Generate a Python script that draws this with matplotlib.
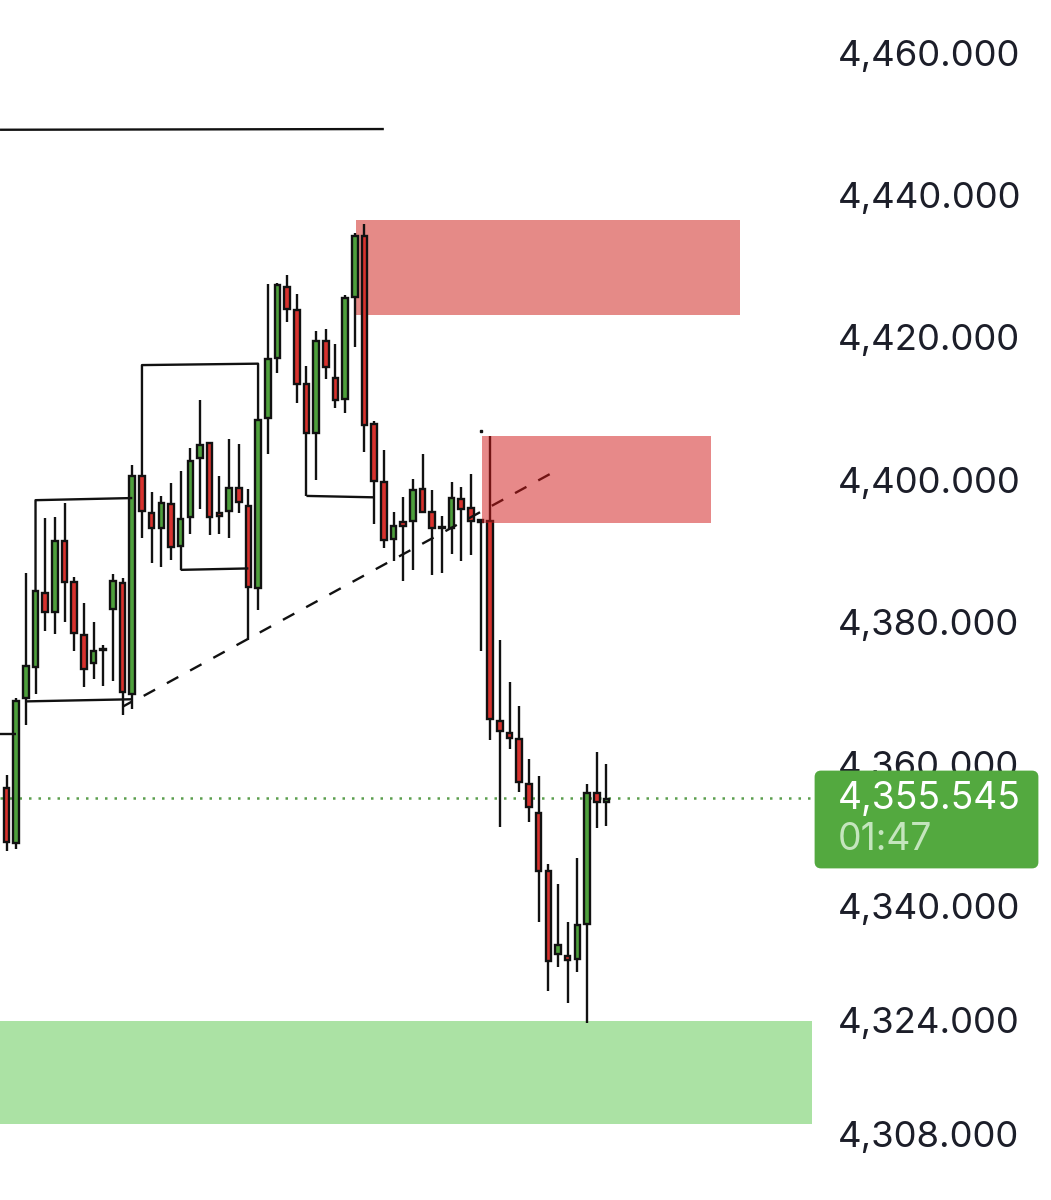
import matplotlib
matplotlib.use("Agg")
import matplotlib.pyplot as plt
from matplotlib.patches import FancyBboxPatch, Rectangle
from matplotlib.transforms import IdentityTransform

# Candles
opens = [4356.6, 4348.9, 4369.3, 4373.6, 4384.0, 4381.4, 4391.3, 4385.6, 4378.2, 4374.2, 4376.1,
         4381.8, 4385.4, 4369.8, 4400.5, 4395.3, 4393.2, 4396.6, 4390.7, 4394.7, 4403.0, 4405.1,
         4395.3, 4395.6, 4398.8, 4396.3, 4384.8, 4408.6, 4417.1, 4427.1, 4423.9, 4413.5, 4406.5,
         4419.5, 4414.3, 4411.4, 4425.7, 4434.3, 4407.8, 4399.7, 4391.6, 4394.0, 4394.2, 4398.7,
         4395.4, 4393.3, 4393.2, 4397.3, 4396.0, 4394.3, 4394.2, 4366.1, 4364.4, 4363.5, 4357.2,
         4353.1, 4344.9, 4333.3, 4333.0, 4332.5, 4337.5, 4355.9, 4354.6]
highs = [4358.4, 4369.3, 4386.9, 4384.3, 4394.6, 4394.8, 4396.7, 4386.3, 4382.7, 4379.9, 4376.7,
         4386.7, 4386.1, 4402.0, 4400.5, 4398.3, 4397.7, 4399.5, 4401.2, 4404.4, 4411.2, 4405.1,
         4400.5, 4405.7, 4405.0, 4398.7, 4408.4, 4427.5, 4427.7, 4428.8, 4426.1, 4416.0, 4420.9,
         4421.2, 4419.1, 4425.9, 4434.7, 4435.9, 4408.2, 4404.1, 4395.4, 4397.6, 4400.1, 4403.6,
         4398.5, 4394.9, 4399.6, 4399.0, 4400.8, 4394.3, 4406.1, 4377.5, 4371.5, 4368.1, 4360.7,
         4358.3, 4345.9, 4343.1, 4337.8, 4346.8, 4357.2, 4361.7, 4360.0]
lows = [4347.7, 4348.0, 4365.5, 4369.8, 4378.7, 4378.3, 4380.0, 4375.9, 4370.8, 4372.0, 4370.9,
        4371.7, 4366.9, 4367.7, 4391.8, 4388.2, 4387.7, 4388.7, 4387.3, 4392.3, 4395.9, 4392.2,
        4392.3, 4391.8, 4395.3, 4377.4, 4381.7, 4403.6, 4415.0, 4422.2, 4410.8, 4397.7, 4399.9,
        4414.1, 4410.1, 4409.4, 4418.6, 4403.9, 4393.8, 4390.4, 4388.5, 4385.8, 4387.3, 4395.4,
        4386.6, 4386.8, 4389.5, 4388.5, 4389.4, 4375.9, 4363.4, 4351.2, 4362.1, 4356.1, 4351.9,
        4337.8, 4328.0, 4331.4, 4326.4, 4330.7, 4323.6, 4351.0, 4351.3]
closes = [4349.0, 4368.9, 4373.8, 4384.3, 4381.4, 4391.4, 4385.6, 4378.4, 4373.4, 4375.9, 4376.0,
          4385.7, 4370.1, 4400.5, 4395.6, 4393.2, 4396.7, 4390.5, 4394.5, 4402.6, 4404.9, 4394.7,
          4394.9, 4398.8, 4396.9, 4384.9, 4408.4, 4417.0, 4427.4, 4424.0, 4413.5, 4406.5, 4419.5,
          4415.9, 4411.2, 4425.5, 4434.3, 4407.7, 4399.8, 4391.5, 4393.5, 4393.5, 4398.6, 4395.4,
          4393.2, 4393.2, 4397.4, 4395.9, 4394.2, 4394.0, 4366.3, 4364.6, 4363.7, 4357.4, 4353.9,
          4345.0, 4332.3, 4334.5, 4332.4, 4337.4, 4355.9, 4354.6, 4355.1]

# Axis
price_ticks = [4460, 4440, 4420, 4400, 4380, 4360, 4340, 4324, 4308]
price_labels = ["4,460.000", "4,440.000", "4,420.000", "4,400.000", "4,380.000",
                "4,360.000", "4,340.000", "4,324.000", "4,308.000"]
last_price = "4,355.545"
countdown = "01:47"
last_line = 4355.2

# Zones: left, right, top, bottom
supply_high = [36.12, 75.81, 4436.5, 4423.2]
supply_low = [49.15, 72.82, 4406.1, 4393.9]
demand = [-0.67, 83.26, 4323.85, 4309.4]

# Hand drawn lines
solid_x = [[-0.67, 39.0], [-0.67, 1], [3, 3, 13], [2, 13], [12, 13],
           [18, 25], [14, 14, 26, 26], [31, 38]]
solid_y = [[4449.2, 4449.3], [4364.2, 4364.2], [4384.3, 4397.1, 4397.4], [4368.8, 4369.1],
           [4368.05, 4368.8], [4387.3, 4387.5], [4400.5, 4416.1, 4416.3, 4408.4], [4397.7, 4397.5]]
dash_x = [13, 56.2]
dash_y = [4368.7, 4400.8]
dot_x = [49]
dot_y = [4406.8]

RED = "#d8322e"
GREEN = "#4ea03c"
INK = "#1c1e29"
FONT = "Inter"
LINE = 1.7

fig = plt.figure(figsize=(10.51, 12), dpi=100)
ax = fig.add_axes([0, 0, 835 / 1051, 1])
ax.set_xlim(-0.672, 85.63)
ax.set_ylim(4298.67, 4467.45)

# Zones, the upper one sits under the candles and the lower one over them
ax.add_patch(Rectangle((supply_high[0], supply_high[3]), supply_high[1] - supply_high[0],
                       supply_high[2] - supply_high[3], color="#e58a87", lw=0, zorder=1))
ax.add_patch(Rectangle((supply_low[0], supply_low[3]), supply_low[1] - supply_low[0],
                       supply_low[2] - supply_low[3], color="#d01818", alpha=0.51, lw=0, zorder=6))
ax.add_patch(Rectangle((demand[0], demand[3]), demand[1] - demand[0],
                       demand[2] - demand[3], color="#abe2a4", lw=0, zorder=1))

ax.plot([-0.67, 83.5], [last_line, last_line], color="#5b9e4d", lw=1.8,
        linestyle=(0, (1, 2.8)), zorder=2)

# Candles
idx = list(range(len(opens)))
colors = [GREEN if c >= o else RED for o, c in zip(opens, closes)]
ax.vlines(idx, lows, highs, color="#111111", lw=LINE, zorder=3)
ax.bar(idx, [abs(c - o) for o, c in zip(opens, closes)], bottom=[min(o, c) for o, c in zip(opens, closes)],
       width=0.58, color=colors, edgecolor="#111111", linewidth=LINE, zorder=4)

# Drawings
for xs, ys in zip(solid_x, solid_y):
    ax.plot(xs, ys, color="#111111", lw=LINE, zorder=5, solid_capstyle="butt")
ax.plot(dash_x, dash_y, color="#111111", lw=LINE, linestyle=(5.7, (5.5, 5.7)),
        dash_capstyle="butt", zorder=5)
ax.plot(dot_x, dot_y, "s", color="#111111", ms=1.8, zorder=5)

# Price scale
for s in ax.spines.values():
    s.set_visible(False)
ax.set_xticks([])
ax.yaxis.tick_right()
ax.set_yticks(price_ticks)
ax.set_yticklabels(price_labels, fontsize=26.3, color=INK, family=FONT)
ax.tick_params(axis="y", length=0, pad=2.4)

# Last price badge
badge = FancyBboxPatch((816, 333), 221, 95, boxstyle="round,pad=0,rounding_size=5",
                       mutation_aspect=1, transform=IdentityTransform(),
                       facecolor="#53a93f", edgecolor="#53a93f", lw=2, zorder=5)
fig.add_artist(badge)
fig.text(838 / 1051, 1 - 799 / 1200, last_price, color="white", fontsize=26.9, family=FONT,
         ha="left", va="center", zorder=6)
fig.text(838 / 1051, 1 - 840 / 1200, countdown, color="#c4e5bd", fontsize=26.9, family=FONT,
         ha="left", va="center", zorder=6)

fig.savefig("out.png", dpi=100, facecolor="white")
